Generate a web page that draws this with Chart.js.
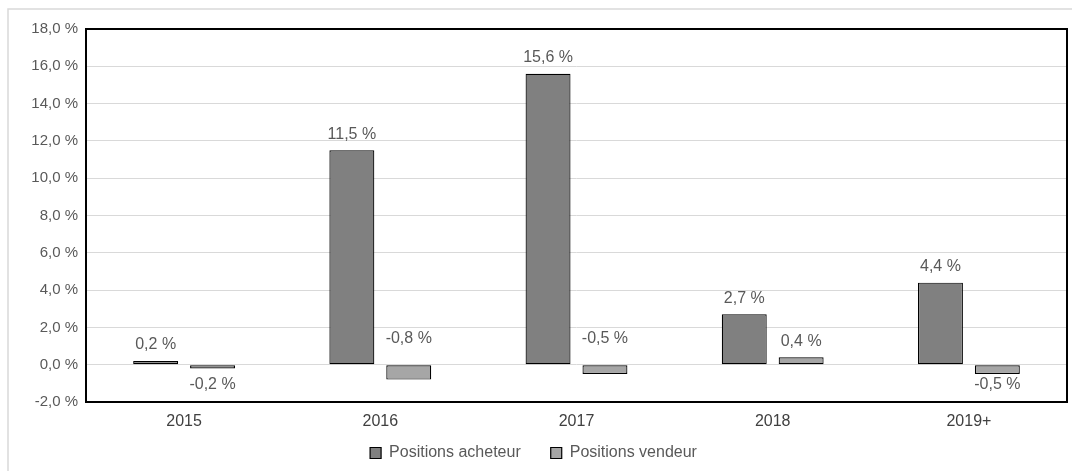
<!DOCTYPE html>
<html>
<head>
<meta charset="utf-8">
<script src="https://cdn.jsdelivr.net/npm/chart.js@4.4.0/dist/chart.umd.min.js"></script>
<style>
  html, body { margin: 0; padding: 0; background: #fff; }
  #wrap { width: 1072px; height: 471px; }
</style>
</head>
<body>
<div id="wrap"><canvas id="mychart" width="1072" height="471"></canvas></div>
<script>
// chart data
const categories = ['2015', '2016', '2017', '2018', '2019+'];
const acheteur = [0.2, 11.5, 15.6, 2.7, 4.4];
const vendeur = [-0.2, -0.8, -0.5, 0.4, -0.5];
const yMin = -2;
const yMax = 18;
const yStep = 2;

const FONT = '"Liberation Sans", Arial, sans-serif';

function fmt(v) {
    return v.toFixed(1).replace('.', ',') + ' %';
}

// white background + light outer frame
const frame = {
    id: 'frame',
    beforeDraw(chart) {
        const ctx = chart.ctx;
        ctx.save();
        ctx.fillStyle = '#fff';
        ctx.fillRect(0, 0, chart.width, chart.height);
        ctx.strokeStyle = '#d9d9d9';
        ctx.lineWidth = 1.5;
        ctx.strokeRect(8, 9, 2000, 2000);
        ctx.restore();
    }
};

// legend needs wide item gaps (padding) but sits close under the axis labels
const legendShift = {
    id: 'legendShift',
    afterLayout(chart) {
        const lg = chart.legend;
        lg.top = chart.chartArea.bottom + 13;
        lg.bottom = chart.height;
        lg.height = lg.bottom - lg.top;
    }
};

// black box around plot area
const plotBorder = {
    id: 'plotBorder',
    afterDatasetsDraw(chart) {
        const a = chart.chartArea;
        const ctx = chart.ctx;
        ctx.save();
        ctx.strokeStyle = '#000';
        ctx.lineWidth = 2;
        ctx.strokeRect(a.left, a.top, a.right - a.left, a.bottom - a.top);
        ctx.restore();
    }
};

// value labels
const valueLabels = {
    id: 'valueLabels',
    afterDatasetsDraw(chart) {
        const ctx = chart.ctx;
        const area = chart.chartArea;
        ctx.save();
        ctx.font = '16px ' + FONT;
        ctx.fillStyle = '#595959';
        ctx.textAlign = 'center';
        ctx.textBaseline = 'middle';
        chart.data.datasets.forEach((ds, i) => {
            const meta = chart.getDatasetMeta(i);
            meta.data.forEach((el, j) => {
                const v = ds.data[j];
                const side = ds.labelSide ? ds.labelSide[j] : 'end';
                let y;
                if (side === 'base') {
                    y = el.base - 27;
                } else if (v >= 0) {
                    y = el.y - 16;
                } else {
                    y = Math.min(el.y + 21, area.bottom - 17);
                }
                ctx.fillText(fmt(v), el.x, y);
            });
        });
        ctx.restore();
    }
};

new Chart(document.getElementById('mychart'), {
    type: 'bar',
    data: {
        labels: categories,
        datasets: [{
            label: 'Positions acheteur',
            data: acheteur,
            backgroundColor: '#808080',
            borderColor: '#000',
            borderWidth: 1.2,
            borderSkipped: false,
            categoryPercentage: 0.58,
            barPercentage: 0.79
        }, {
            label: 'Positions vendeur',
            data: vendeur,
            backgroundColor: '#a6a6a6',
            borderColor: '#000',
            borderWidth: 1.2,
            borderSkipped: false,
            categoryPercentage: 0.58,
            barPercentage: 0.79,
            labelSide: ['end', 'base', 'base', 'end', 'end']
        }]
    },
    options: {
        responsive: false,
        animation: false,
        layout: { padding: { left: 0, top: 29, right: 5, bottom: 0 } },
        plugins: {
            tooltip: { enabled: false },
            legend: {
                position: 'bottom',
                maxHeight: 39,
                labels: {
                    font: { family: FONT, size: 16 },
                    color: '#595959',
                    boxWidth: 11,
                    boxHeight: 11,
                    padding: 30
                }
            }
        },
        scales: {
            x: {
                grid: { display: false, drawTicks: false },
                border: { display: false },
                ticks: {
                    font: { family: FONT, size: 16 },
                    color: '#404040',
                    padding: 10
                },
                afterFit(scale) { scale.height = 30; }
            },
            y: {
                min: yMin,
                max: yMax,
                grid: { color: '#d9d9d9', lineWidth: 1, drawTicks: false },
                border: { display: false },
                ticks: {
                    stepSize: yStep,
                    font: { family: FONT, size: 15 },
                    color: '#595959',
                    padding: 8,
                    callback: (v) => fmt(v)
                },
                afterFit(scale) { scale.width = 86; }
            }
        }
    },
    plugins: [frame, legendShift, plotBorder, valueLabels]
});
</script>
</body>
</html>
